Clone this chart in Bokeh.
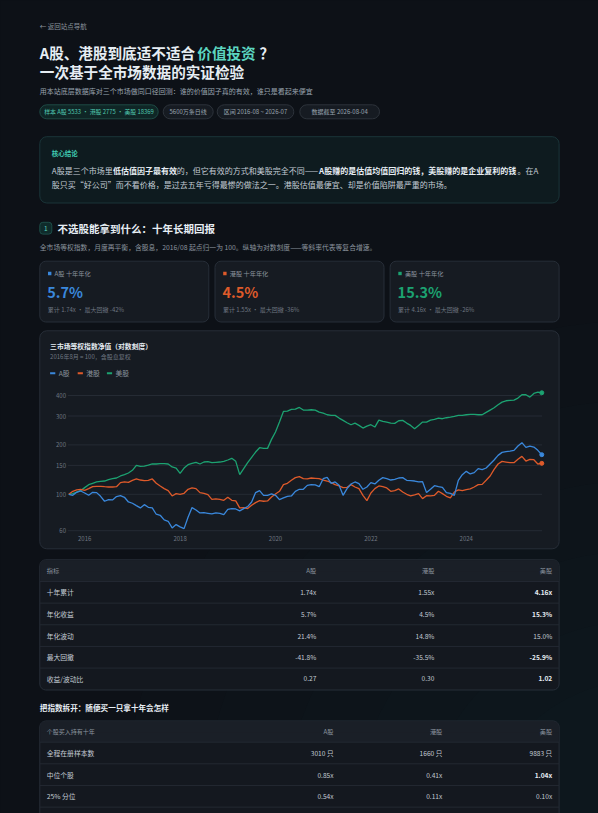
from bokeh.plotting import figure
from bokeh.models import Range1d, LogScale, GlobalInlineStyleSheet
from bokeh.core.properties import value
from bokeh.embed import file_html
from bokeh.resources import INLINE

# ---- data: equal-weight index, 2016-08 = 100, monthly (120 months) ----
MONTHS = list(range(120))
A_VAL = [100.0, 98.6, 102.8, 104.8, 101.9, 98.6, 102.8, 102.4, 97.2, 90.7,
         92.8, 92.4, 96.8, 98.1, 95.9, 89.8, 88.2, 85.3, 82.6, 86.5,
         83.3, 82.6, 75.6, 74.5, 69.8, 68.5, 62.4, 65.4, 63.3, 61.8,
         72.5, 83.0, 80.3, 77.0, 77.3, 76.6, 75.9, 77.0, 76.6, 75.2,
         81.0, 81.8, 81.4, 79.2, 81.8, 84.1, 89.8, 102.4, 105.3, 98.6,
         98.6, 100.5, 98.6, 92.8, 95.0, 97.2, 97.7, 104.3, 107.3, 107.3,
         113.4, 114.5, 114.0, 111.3, 124.5, 126.9, 116.7, 118.9, 113.4, 98.6,
         108.3, 115.6, 118.9, 116.1, 107.3, 110.8, 117.8, 115.6, 121.7, 126.3,
         124.5, 122.2, 123.4, 125.7, 126.3, 121.7, 121.1, 120.5, 118.9, 119.4,
         102.4, 107.3, 112.9, 111.3, 110.3, 102.4, 101.4, 98.6, 121.7, 131.7,
         138.0, 133.0, 135.5, 143.3, 141.3, 144.6, 153.0, 161.8, 172.7, 180.1,
         181.8, 183.5, 185.3, 196.9, 206.3, 193.2, 196.9, 194.1, 185.3, 174.3]
H_VAL = [100.0, 104.3, 106.3, 107.3, 105.8, 108.3, 111.3, 111.9, 111.9, 111.3,
         110.8, 110.8, 111.3, 117.8, 118.9, 118.3, 121.7, 124.0, 122.2, 121.1,
         121.7, 124.0, 116.7, 112.4, 108.3, 105.3, 97.7, 100.9, 100.0, 101.4,
         107.3, 109.3, 108.3, 102.4, 101.4, 99.5, 93.2, 93.7, 93.2, 91.9,
         95.9, 91.9, 91.1, 82.6, 83.0, 81.8, 85.7, 89.0, 91.5, 90.7,
         91.1, 96.3, 100.5, 104.3, 114.5, 116.7, 121.7, 126.3, 128.1, 124.5,
         124.0, 125.7, 125.1, 124.5, 122.2, 120.5, 117.8, 114.5, 112.4, 109.8,
         110.3, 114.5, 110.8, 108.3, 98.6, 91.5, 101.9, 108.3, 112.4, 111.3,
         109.3, 104.3, 105.3, 107.8, 103.3, 100.0, 97.7, 99.1, 100.9, 94.1,
         98.1, 97.7, 98.6, 104.3, 100.9, 97.2, 95.0, 103.3, 106.3, 105.3,
         106.8, 107.8, 110.8, 114.5, 115.0, 121.7, 129.3, 142.0, 153.0, 158.8,
         157.3, 155.8, 155.8, 163.3, 170.3, 159.5, 163.3, 162.5, 153.0, 154.4]
U_VAL = [100.0, 100.9, 103.3, 105.3, 109.8, 114.5, 116.7, 118.9, 120.0, 120.5,
         122.8, 124.5, 125.7, 129.3, 131.7, 134.8, 140.0, 150.1, 148.0, 148.7,
         150.8, 153.0, 153.0, 153.7, 153.7, 153.0, 146.7, 144.6, 134.2, 144.6,
         151.5, 154.4, 156.6, 153.0, 157.3, 158.0, 155.8, 156.6, 157.3, 158.8,
         161.8, 165.6, 158.8, 131.7, 143.3, 155.8, 167.9, 181.0, 192.3, 190.5,
         190.5, 216.1, 239.5, 275.5, 319.9, 321.4, 329.0, 330.6, 338.4, 326.0,
         326.0, 327.5, 326.0, 317.0, 312.6, 305.3, 302.5, 302.5, 291.4, 282.0,
         273.0, 265.4, 271.7, 263.0, 253.3, 260.5, 265.4, 256.9, 283.4, 278.1,
         275.5, 271.7, 270.4, 280.7, 282.0, 271.7, 263.0, 251.0, 263.0, 275.5,
         275.5, 283.4, 286.0, 291.4, 288.7, 292.8, 295.5, 298.3, 302.5, 302.5,
         305.3, 306.8, 306.8, 305.3, 305.3, 315.5, 326.0, 336.8, 351.3, 364.6,
         371.5, 373.3, 375.0, 385.7, 404.1, 404.1, 391.1, 411.7, 419.5, 415.6]

YTICKS = [60, 100, 150, 200, 300, 400]
YTICK_LABELS = ["60", "100", "150", "200", "300", "400"]
XTICK_POS = [4, 28, 52, 76, 100]
XTICK_LABELS = ["2016", "2018", "2020", "2022", "2024"]

SERIES = ["A股", "港股", "美股"]
COLORS = ["#3a88dc", "#de5a2a", "#1ca271"]

KPI_LABEL = ["A股 十年年化", "港股 十年年化", "美股 十年年化"]
KPI_ANN = ["5.7%", "4.5%", "15.3%"]
KPI_SUB = ["累计 1.74x · 最大回撤 -42%", "累计 1.55x · 最大回撤 -36%", "累计 4.16x · 最大回撤 -26%"]

T1_HEAD = ["指标", "A股", "港股", "美股"]
T1_ROWS = ["十年累计", "年化收益", "年化波动", "最大回撤", "收益/波动比"]
T1_A = ["1.74x", "5.7%", "21.4%", "-41.8%", "0.27"]
T1_H = ["1.55x", "4.5%", "14.8%", "-35.5%", "0.30"]
T1_U = ["4.16x", "15.3%", "15.0%", "-25.9%", "1.02"]
T1_U_BOLD = [True, True, False, True, True]

T2_HEAD = ["个股买入持有十年", "A股", "港股", "美股"]
T2_ROWS = ["全程在册样本数", "中位个股", "25% 分位"]
T2_A = ["3010 只", "0.85x", "0.54x"]
T2_H = ["1660 只", "0.41x", "0.11x"]
T2_U = ["9883 只", "1.04x", "0.10x"]
T2_U_BOLD = [False, True, False]

PILLS = ["样本 A股 5533 · 港股 2775 · 美股 18369", "5600万条日线", "区间 2016-08 ~ 2026-07", "数据截至 2026-08-04"]

BG = "#0d1117"
CARD = "#161b22"
CARD_LINE = "#272e38"
WHITE = "#e6edf3"
BODY = "#c3cbd4"
MUTED = "#8b949e"
DIM = "#6e7681"
TEAL = "#5cd6c0"
FONT = value("Noto Sans CJK SC")

PW, PH = 598, 813
p = figure(width=PW, height=PH, output_backend="svg", toolbar_location=None,
           x_range=Range1d(0, PW), y_range=Range1d(PH, 0),
           x_axis_type=None, y_axis_type=None, min_border=0,
           background_fill_color=BG, border_fill_color=BG)
p.outline_line_color = None
p.stylesheets = [GlobalInlineStyleSheet(css="html,body{background:#0d1117;}")]

# faint teal glow towards the lower right of the page
for r in [520, 440, 360, 290, 220, 160]:
    p.circle(x=[640], y=[840], radius=r, radius_units="screen",
             fill_color="#1b4d46", fill_alpha=0.028, line_color=None)


def txt(x, y, s, size, color, bold=False, align="left", **kw):
    p.text(x=[x], y=[y], text=[s], text_font=FONT, text_font_size=value(f"{size}px"),
           text_color=color, text_font_style="bold" if bold else "normal",
           text_align=align, text_baseline="middle", **kw)


def box(l, r, t, b, fill, line, radius=6, lw=1):
    p.quad(left=[l], right=[r], top=[t], bottom=[b], fill_color=fill,
           line_color=line, line_width=lw, border_radius=radius)


# header
txt(39.3, 25, "← 返回站点导航", 6.5, MUTED)
txt(39.3, 51.5, "A股、港股到底适不适合", 14.6, WHITE, bold=True)
txt(196.8, 51.5, "价值投资", 14.6, TEAL, bold=True)
txt(259.0, 51.5, "？", 14.6, WHITE, bold=True)
txt(39.3, 71.2, "一次基于全市场数据的实证检验", 14.6, WHITE, bold=True)
txt(39.3, 90.5, "用本站底层数据库对三个市场做同口径回测：谁的价值因子真的有效，谁只是看起来便宜", 7, "#9aa4af")

pill_x = [(39.3, 157.7), (162.7, 212.7), (216.7, 293.3), (299.3, 379.0)]
for i, (s, (l, r)) in enumerate(zip(PILLS, pill_x)):
    if i == 0:
        box(l, r, 104.3, 118.3, "#0f2626", "#1e4a45", radius=7)
        txt((l + r) / 2, 111.3, s, 5.9, "#4fc7b0", align="center")
    else:
        box(l, r, 104.3, 118.3, CARD, "#2d333b", radius=7)
        txt((l + r) / 2, 111.3, s, 6.0, "#9aa4af", align="center")

# conclusion
box(39.3, 558.6, 136.2, 202.5, "#0e1b1f", "#1b3539", radius=7)
txt(51.3, 152.8, "核心结论", 6.5, "#3fc9b0", bold=True)
y1, y2 = 170.2, 184.4
txt(51.3, y1, "A股是三个市场里", 8, BODY)
txt(112.6, y1, "低估值因子最有效", 8, WHITE, bold=True)
txt(176.3, y1, "的，但它有效的方式和美股完全不同——", 8, BODY)
txt(318.5, y1, "A股赚的是估值均值回归的钱，美股赚的是企业复利的钱", 8, WHITE, bold=True)
txt(517.0, y1, "。在A", 8, BODY)
txt(51.3, y2, "股只买\u201c好公司\u201d而不看价格，是过去五年亏得最惨的做法之一。港股估值最便宜、却是价值陷阱最严重的市场。", 8, BODY)

# section heading
box(39.3, 51.3, 221.8, 233.6, "#0f2b2b", "#1d4d48", radius=3)
txt(45.3, 227.8, "1", 6.5, TEAL, align="center")
txt(56.9, 228.2, "不选股能拿到什么：十年长期回报", 10.5, WHITE, bold=True)
txt(39.3, 246.0, "全市场等权指数，月度再平衡，含股息，2016/08 起点归一为 100。纵轴为对数刻度——等斜率代表等复合增速。", 6.8, MUTED)

# KPI cards
card_l = [39.3, 214.5, 389.6]
for k in range(3):
    l = card_l[k]
    box(l, l + 169, 260.7, 321.5, CARD, CARD_LINE, radius=6)
    p.quad(left=[l + 8.2], right=[l + 11.6], top=[271.3], bottom=[274.7], fill_color=COLORS[k], line_color=None)
    txt(l + 14.8, 273.0, KPI_LABEL[k], 6.2, MUTED)
    txt(l + 7.5, 291.4, KPI_ANN[k], 14.5, COLORS[k], bold=True)
    txt(l + 8, 308.8, KPI_SUB[k], 6.0, DIM)

# chart card
box(39.3, 558.6, 330.3, 548.3, CARD, CARD_LINE, radius=7)
txt(49.6, 345.0, "三市场等权指数净值（对数刻度）", 6.8, WHITE, bold=True)
txt(49.6, 355.8, "2016年8月 = 100，含股息复权", 6.0, DIM)
leg_x = [49.6, 77.2, 106.4]
for k in range(3):
    p.segment(x0=[leg_x[k]], x1=[leg_x[k] + 5.2], y0=[372.8], y1=[372.8], line_color=COLORS[k], line_width=2)
    txt(leg_x[k] + 8.6, 372.8, SERIES[k], 6.8, MUTED)

# chart scales (log y, month index x)
PX0, PX1 = 68.3, 541.3
step = (PX1 - PX0) / (len(MONTHS) - 1)
xs0 = MONTHS[0] + (0 - PX0) / step
xs1 = MONTHS[0] + (PW - PX0) / step
PY100, PY400 = 493.8, 395.0
dec = (PY100 - PY400) / 0.60206
ylo = 100 * 10 ** (-(PH - PY100) / dec)
yhi = 100 * 10 ** ((PY100 - 0) / dec)
p.extra_x_ranges = {"m": Range1d(xs0, xs1)}
p.extra_y_ranges = {"lg": Range1d(ylo, yhi)}
p.extra_y_scales = {"lg": LogScale()}

p.segment(x0=[67.3] * len(YTICKS), x1=[541.5] * len(YTICKS), y0=YTICKS, y1=YTICKS,
          y_range_name="lg", line_color="#252b34", line_width=1)
p.text(x=[65.5] * len(YTICKS), y=YTICKS, text=YTICK_LABELS, y_range_name="lg",
       text_font=FONT, text_font_size=value("6px"), text_color=DIM,
       text_align="right", text_baseline="middle")
p.text(x=XTICK_POS, y=[537.7] * len(XTICK_POS), text=XTICK_LABELS, x_range_name="m",
       text_font=FONT, text_font_size=value("6px"), text_color=DIM,
       text_align="center", text_baseline="middle")

for vals, c in zip([U_VAL, H_VAL, A_VAL], [COLORS[2], COLORS[1], COLORS[0]]):
    p.line(x=MONTHS, y=vals, x_range_name="m", y_range_name="lg", line_color=c, line_width=1.3)
    p.scatter(x=[MONTHS[-1]], y=[vals[-1]], x_range_name="m", y_range_name="lg",
              size=4, fill_color=c, line_color=c)

# table 1
col_r = [315.8, 433.9, 551.7]
RH = 21.65
box(39.3, 558.6, 559.3, 689.5, "#14181f", CARD_LINE, radius=6)
box(39.8, 558.1, 559.8, 581.0, "#1a1f27", None, radius=5)
p.quad(left=[39.8], right=[558.1], top=[571], bottom=[581.0], fill_color="#1a1f27", line_color=None)
txt(46.2, 570.2, T1_HEAD[0], 6.2, MUTED)
for j in range(3):
    txt(col_r[j], 570.2, T1_HEAD[j + 1], 6.2, MUTED, align="right")
for i in range(len(T1_ROWS)):
    yc = 591.8 + RH * i
    p.segment(x0=[39.3], x1=[558.6], y0=[yc - RH / 2], y1=[yc - RH / 2], line_color="#232932", line_width=1)
    txt(46.2, yc, T1_ROWS[i], 6.8, BODY)
    txt(col_r[0], yc, T1_A[i], 6.6, BODY, align="right")
    txt(col_r[1], yc, T1_H[i], 6.6, BODY, align="right")
    if T1_U_BOLD[i]:
        txt(col_r[2], yc, T1_U[i], 6.6, WHITE, bold=True, align="right")
    else:
        txt(col_r[2], yc, T1_U[i], 6.6, BODY, align="right")

# table 2
txt(39.3, 706.7, "把指数拆开：随便买一只拿十年会怎样", 7.6, WHITE, bold=True)
col_r2 = [333.0, 441.8, 551.7]
box(39.3, 558.6, 720.5, 840, "#14181f", CARD_LINE, radius=6)
box(39.8, 558.1, 721.0, 741.7, "#1a1f27", None, radius=5)
p.quad(left=[39.8], right=[558.1], top=[732], bottom=[741.7], fill_color="#1a1f27", line_color=None)
txt(46.2, 730.8, T2_HEAD[0], 6.0, MUTED)
for j in range(3):
    txt(col_r2[j], 730.8, T2_HEAD[j + 1], 6.2, MUTED, align="right")
for i in range(len(T2_ROWS)):
    yc = 752.5 + RH * i
    p.segment(x0=[39.3], x1=[558.6], y0=[yc - RH / 2], y1=[yc - RH / 2], line_color="#232932", line_width=1)
    txt(46.2, yc, T2_ROWS[i], 6.8, BODY)
    txt(col_r2[0], yc, T2_A[i], 6.6, BODY, align="right")
    txt(col_r2[1], yc, T2_H[i], 6.6, BODY, align="right")
    if T2_U_BOLD[i]:
        txt(col_r2[2], yc, T2_U[i], 6.6, WHITE, bold=True, align="right")
    else:
        txt(col_r2[2], yc, T2_U[i], 6.6, BODY, align="right")
p.segment(x0=[39.3], x1=[558.6], y0=[752.5 + RH * 2.5], y1=[752.5 + RH * 2.5], line_color="#232932", line_width=1)

open("out.html", "w").write(file_html(p, INLINE, title="A股、港股到底适不适合价值投资？"))
